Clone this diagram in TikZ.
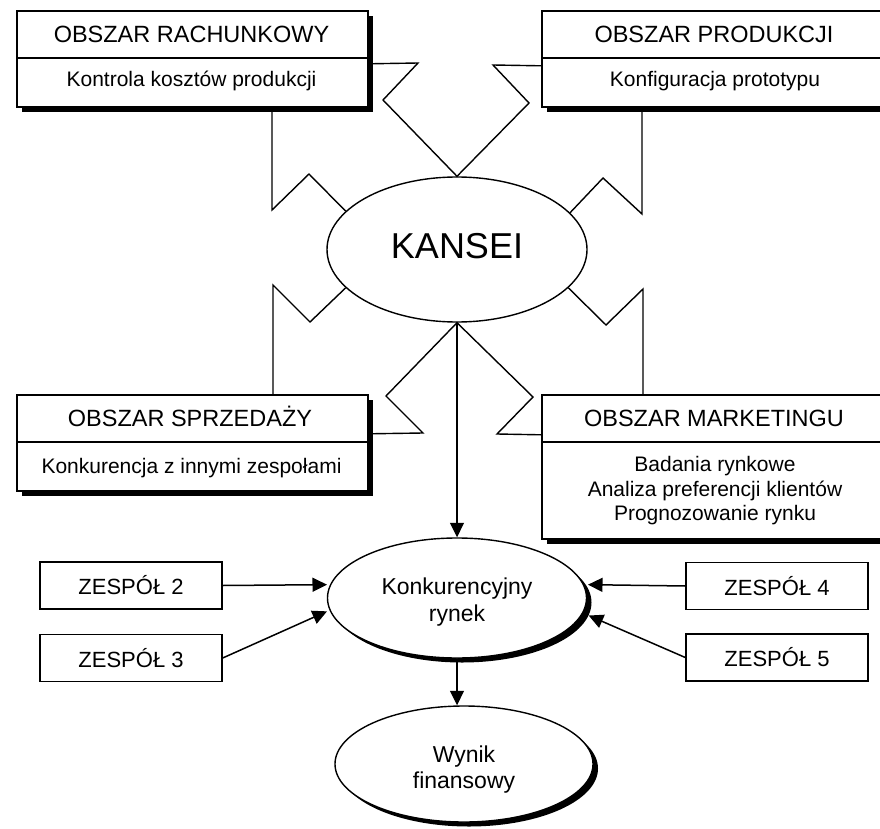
\documentclass[tikz,border=0pt]{standalone}
\usepackage{fontspec}
\setmainfont{Liberation Sans}
\usetikzlibrary{shapes.geometric,shadows,arrows.meta}
\newcommand{\lowtext}[2]{\raisebox{-#1}[\height][\depth]{\begin{tabular}{@{}c@{}}#2\end{tabular}}}
\begin{document}
\begin{tikzpicture}[x=1pt,y=-1pt,
  bigbox/.style={draw, line width=1.6pt, fill=white, minimum width=351pt, inner sep=0pt, anchor=north west,
    drop shadow={shadow xshift=5.5pt,shadow yshift=-5.5pt,fill=black,opacity=1}},
  divider/.style={line width=1.6pt},
  ttl/.style={font=\fontsize{23.5}{26}\selectfont, anchor=base, inner sep=0pt},
  sub/.style={font=\fontsize{21}{24.5}\selectfont, anchor=base, inner sep=0pt},
  team/.style={draw, line width=1.4pt, fill=white, minimum width=182pt, minimum height=47pt, inner sep=0pt,
    font=\fontsize{22}{26}\selectfont},
  ell/.style={ellipse, draw, line width=1.4pt, fill=white, inner sep=0pt, align=center},
  eshadow/.style={drop shadow={shadow xshift=5pt,shadow yshift=-4.5pt,fill=black,opacity=1}},
  zz/.style={line width=1.4pt, line join=miter, miter limit=20},
  arr/.style={line width=1.5pt, -{Triangle[length=14.5pt,width=14pt]}},
]
\useasboundingbox (0,0) rectangle (880,829);
\clip (0,0) rectangle (880,829);

% area boxes
\node[bigbox, minimum height=96pt] (rach) at (16,10) {};
\draw[divider] (rach.west |- 0,58) -- (rach.east |- 0,58);
\node[ttl] (rachT) at (191.5,43) {OBSZAR RACHUNKOWY};
\node[sub] (rachS) at (191.5,87) {Kontrola kosztów produkcji};

\node[bigbox, minimum height=96pt] (prod) at (541,10) {};
\draw[divider] (prod.west |- 0,58) -- (prod.east |- 0,58);
\node[ttl] (prodT) at (714,43) {OBSZAR PRODUKCJI};
\node[sub] (prodS) at (715,87) {Konfiguracja prototypu};

\node[bigbox, minimum height=96pt] (sprz) at (16,394) {};
\draw[divider] (sprz.west |- 0,442) -- (sprz.east |- 0,442);
\node[ttl] (sprzT) at (190,426) {OBSZAR SPRZEDAŻY};
\node[sub] (sprzS) at (191.5,473) {Konkurencja z innymi zespołami};

\node[bigbox, minimum height=144pt] (mark) at (541,394) {};
\draw[divider] (mark.west |- 0,442) -- (mark.east |- 0,442);
\node[ttl] (markT) at (714,426) {OBSZAR MARKETINGU};
\node[font=\fontsize{21}{24.5}\selectfont, align=center, inner sep=0pt] (markS) at (715,491)
  {Badania rynkowe\\Analiza preferencji klientów\\Prognozowanie rynku};

% ellipses
\node[ell, minimum width=260pt, minimum height=145pt, font=\fontsize{36}{40}\selectfont, text depth=7pt]
  (kansei) at (457,249.5) {KANSEI};
\node[ell, eshadow, minimum width=259pt, minimum height=120pt, font=\fontsize{23}{27}\selectfont]
  (konk) at (457,598) {\lowtext{5pt}{Konkurencyjny\\rynek}};
\node[ell, eshadow, minimum width=258pt, minimum height=116pt, font=\fontsize{23}{26}\selectfont]
  (wyn) at (464,764) {\lowtext{6pt}{Wynik\\finansowy}};

% teams
\node[team] (z2) at (131,585.5) {ZESPÓŁ 2};
\node[team] (z3) at (131,658) {ZESPÓŁ 3};
\node[team] (z4) at (777,586) {ZESPÓŁ 4};
\node[team] (z5) at (777,657.5) {ZESPÓŁ 5};

% zigzag links
\draw[zz] ([yshift=-5pt]rach.east) -- (418,63) -- (383,100) -- (kansei.north) -- (529,103) -- (493,65) -- ([yshift=-7pt]prod.west);
\draw[zz] (rach.south -| 272,0) -- (272,210) -- (309,174) -- (kansei.161);
\draw[zz] (prod.south -| 642,0) -- (642,214) -- (603,178) -- (kansei.18);
\draw[zz] (kansei.199) -- (310,322) -- (273,285) -- (sprz.north -| 273,0);
\draw[zz] ([yshift=9pt]sprz.east) -- (423,433) -- (386,396) -- (kansei.south) -- (533,397) -- (497,434) -- ([yshift=32pt]mark.west);
\draw[zz] (kansei.341) -- (606,325) -- (643,289) -- (mark.north -| 643,0);

% arrows
\draw[arr] (kansei.south) -- (konk.north);
\draw[arr] (konk.south) -- (konk.south |- wyn.north);
\draw[arr] (z2.east) -- ([xshift=-3pt]konk.174);
\draw[arr] (z3.east) -- ([xshift=-3pt]konk.186);
\draw[arr] (z4.west) -- ([xshift=4pt]konk.6);
\draw[arr] (z5.west) -- ([xshift=7pt]konk.352);
\end{tikzpicture}
\end{document}
